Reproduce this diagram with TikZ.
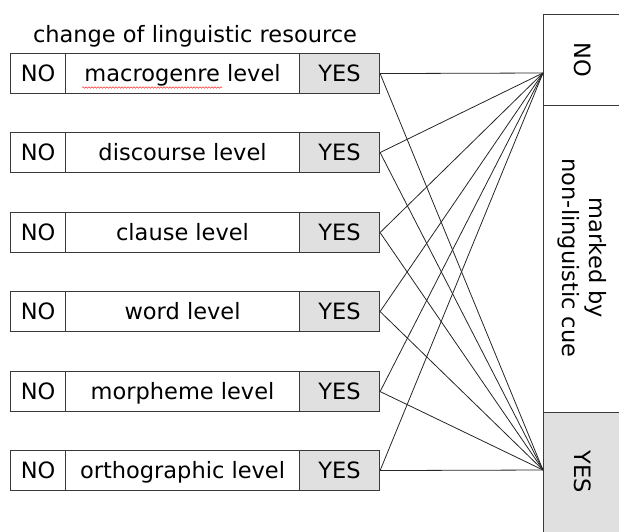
\documentclass[tikz,border=0pt]{standalone}
\usepackage{fontspec}
\setmainfont{DejaVu Sans}
\usetikzlibrary{decorations.pathmorphing}
\definecolor{cellgray}{HTML}{E0E0E0}
\definecolor{edge}{HTML}{3A3A3A}
\begin{document}
\begin{tikzpicture}[x=1pt,y=-1pt,
  txt/.style={font=\fontsize{22.5}{27}\selectfont},
  cell/.style={txt,draw=edge,line width=1.1pt,minimum height=40pt,text height=18pt,text depth=1.6pt,inner sep=0pt,anchor=north west},
  nocell/.style={cell,minimum width=55pt},
  midcell/.style={cell,minimum width=234pt},
  yescell/.style={cell,minimum width=80pt,fill=cellgray},
  rcell/.style={draw=edge,line width=1.1pt,inner sep=0pt,anchor=north west,minimum width=90pt},
  link/.style={draw=black!85,line width=0.8pt}]
\useasboundingbox (0,0) rectangle (619,531);
\node[txt] (title) at (195,36) {change of linguistic resource};
% right column
\node[rcell,minimum height=91pt] (rno) at (543,14) {};
\node[txt,rotate=-90] (rnot) at (583,60) {NO};
\node[rcell,minimum height=307pt] (rmid) at (543,105) {};
\node[txt,rotate=-90,align=center] (rmidt) at (582,258) {marked by\\non-linguistic cue};
\node[rcell,minimum height=130pt,fill=cellgray] (ryes) at (543,412) {};
\node[txt,rotate=-90] (ryest) at (583,472) {YES};
\coordinate (cno) at (543,73);
\coordinate (cyes) at (543,470);
% rows
\foreach \i/\yy/\lab in {1/53/macrogenre level,2/132/discourse level,3/212/clause level,4/291/word level,5/371/morpheme level,6/450/orthographic level}{
  \node[nocell] (n\i) at (10,\yy) {NO};
  \node[midcell] (m\i) at (65,\yy) {\lab};
  \node[yescell] (y\i) at (299,\yy) {YES};
  \draw[link] (y\i.east) -- (cno);
  \draw[link] (y\i.east) -- (cyes);
}
\draw[red!80,line width=0.5pt,decorate,decoration={snake,amplitude=0.8pt,segment length=3pt}] (82,87.5) -- (222,87.5);
\end{tikzpicture}
\end{document}
